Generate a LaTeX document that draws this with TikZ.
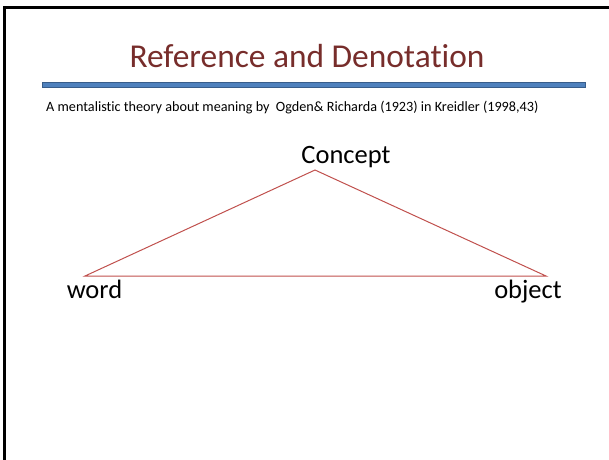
\documentclass[tikz,border=0pt]{standalone}
\usepackage{fontspec}
\setmainfont[Ligatures={NoCommon,NoRare}]{Carlito}
\definecolor{titlered}{HTML}{772D2B}
\definecolor{barblue}{HTML}{4F81BD}
\definecolor{barline}{HTML}{385D8A}
\definecolor{edgered}{HTML}{C0504D}
\begin{document}
\begin{tikzpicture}[x=1pt,y=-1pt]
    \useasboundingbox (0,0) rectangle (609,459);
    % slide frame (top and left edges only)
    \draw[line width=3pt] (4.7,470) -- (4.7,7) -- (620,7);
    \node[font=\fontsize{33.4}{34}\selectfont,text=titlered,anchor=base] (title) at (307,67) {Reference and Denotation};
    \draw[fill=barblue,draw=barline,line width=0.8pt] (42,82.5) rectangle (585,87.5);
    \node[font=\fontsize{14.2}{16}\selectfont,anchor=base west,inner sep=0pt] (sub) at (46,111) {A mentalistic theory about meaning by\ \ Ogden\& Richarda (1923) in Kreidler (1998,43)};
    \coordinate (c) at (315,170);
    \coordinate (w) at (85,276);
    \coordinate (o) at (546,276);
    \draw[edgered,line width=1pt] (w) -- (c) -- (o) -- cycle;
    \node[font=\fontsize{26.5}{27}\selectfont,anchor=base] (concept) at (346,163) {Concept};
    \node[font=\fontsize{26.5}{27}\selectfont,anchor=base] (word) at (94.5,298) {word};
    \node[font=\fontsize{26.5}{27}\selectfont,anchor=base] (object) at (528,298) {object};
  \end{tikzpicture}
\end{document}
